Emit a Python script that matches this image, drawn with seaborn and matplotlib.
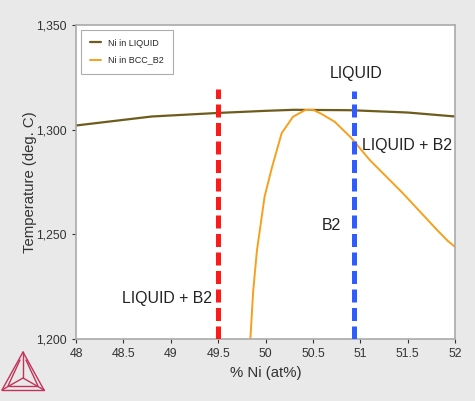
import matplotlib
matplotlib.use("Agg")
import matplotlib.pyplot as plt
import matplotlib.ticker as mticker
from matplotlib.lines import Line2D
import seaborn as sns
import pandas as pd

# Ni in LIQUID
liq_x = [48.0, 48.8, 49.5, 50.0, 50.3, 50.9, 51.5, 52.0]
liq_t = [1302.0, 1306.3, 1308.0, 1309.0, 1309.5, 1309.3, 1308.2, 1306.3]

# Ni in BCC_B2
b2_x = [49.84, 49.87, 49.91, 49.94, 49.99, 50.07, 50.17, 50.29, 50.42, 50.5,
        50.58, 50.73, 50.9, 51.1, 51.45, 51.81, 51.92, 52.0]
b2_t = [1200.0, 1223.0, 1242.5, 1252.0, 1268.0, 1282.3, 1298.3, 1306.2, 1309.4, 1309.5,
        1307.8, 1303.8, 1296.3, 1285.5, 1269.6, 1252.1, 1247.0, 1244.0]

cut_x = [49.5, 50.93]
cut_top = [1319.5, 1318.5]
cut_colors = ["#ff1a1a", "#2f5cff"]

labels = ["LIQUID", "LIQUID + B2", "B2", "LIQUID + B2"]
label_x = [50.96, 51.02, 50.69, 49.43]
label_t = [1327.0, 1292.5, 1254.0, 1219.5]
label_ha = ["center", "left", "center", "right"]

sns.set_style("white")
plt.rcParams["font.family"] = ["Liberation Sans", "DejaVu Sans"]

bg = "#e9e9e9"
fig = plt.figure(figsize=(4.75, 4.01), dpi=100, facecolor=bg)
ax = fig.add_axes([0.16, 0.1546, 0.798, 0.783])
ax.set_facecolor("white")

df_liq = pd.DataFrame({"x": liq_x, "t": liq_t})
df_b2 = pd.DataFrame({"x": b2_x, "t": b2_t})
sns.lineplot(data=df_liq, x="x", y="t", ax=ax, color="#6e5c1c", lw=1.6,
             label="Ni in LIQUID", sort=False)
sns.lineplot(data=df_b2, x="x", y="t", ax=ax, color="#f7a01c", lw=1.4,
             label="Ni in BCC_B2", sort=False)

for x, top, c in zip(cut_x, cut_top, cut_colors):
    ax.plot([x, x], [1200, top], color=c, lw=3.6, ls=(0, (2.6, 1.1)),
            solid_capstyle="butt", zorder=3)

for s, x, t, ha in zip(labels, label_x, label_t, label_ha):
    ax.text(x, t, s, ha=ha, va="center", fontsize=11.4, color="#222222")

ax.set_xlim(48, 52)
ax.set_ylim(1200, 1350)
ax.set_xticks([48, 48.5, 49, 49.5, 50, 50.5, 51, 51.5, 52])
ax.set_xticklabels(["48", "48.5", "49", "49.5", "50", "50.5", "51", "51.5", "52"])
ax.set_yticks([1200, 1250, 1300, 1350])
ax.yaxis.set_major_formatter(mticker.FuncFormatter(lambda v, p: f"{int(v):,}"))
ax.tick_params(axis="both", labelsize=8.8, colors="#333333", length=3, width=0.8,
               direction="out", bottom=True, left=True)
for sp in ax.spines.values():
    sp.set_color("#aaaaaa")
    sp.set_linewidth(1.2)
ax.set_xlabel("% Ni (at%)", fontsize=10.7, color="#333333")
ax.set_ylabel("Temperature (deg. C)", fontsize=10.7, color="#333333", labelpad=-0.5)

leg = ax.legend(loc="upper left", fontsize=6.5, frameon=True, fancybox=False,
                handlelength=1.3, borderpad=1.0, labelspacing=0.9,
                bbox_to_anchor=(0.0, 1.0))
leg.get_frame().set_edgecolor("#999999")
leg.get_frame().set_linewidth(0.8)

# logo
W, H = 475, 401
def fx(px):
    return px / W
def fy(py):
    return 1 - py / H
logo_c = "#c3325a"
apex, bl, br, ctr = (23, 352), (2, 390), (44, 390), (23, 378)
segs = [(apex, bl), (bl, br), (br, apex), (apex, ctr), (bl, ctr), (br, ctr),
        ((20, 360), (8, 386)), ((26, 360), (38, 386)), ((9, 386), (37, 386))]
for a, b in segs:
    fig.add_artist(Line2D([fx(a[0]), fx(b[0])], [fy(a[1]), fy(b[1])],
                          color=logo_c, lw=1.0))

fig.savefig("out.png", dpi=100, facecolor=bg)
